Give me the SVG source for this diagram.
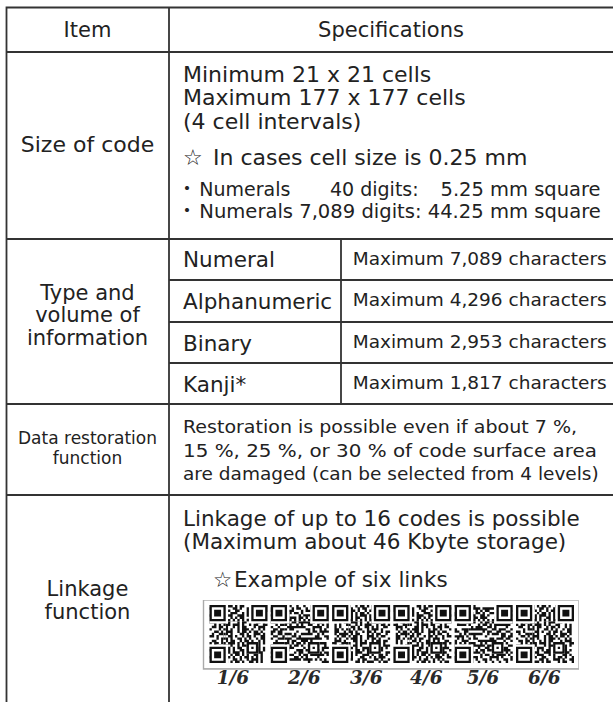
<svg xmlns="http://www.w3.org/2000/svg" width="613" height="702" viewBox="0 0 613 702">
<style>
text{font-family:'DejaVu Sans','Noto Sans CJK JP',sans-serif;fill:#222}
.c{text-anchor:middle}
.f22{font-size:22px}
.f21{font-size:21px}
.f215{font-size:21.5px}
.f19{font-size:19px}
.f185{font-size:18.5px}
.f18{font-size:18px}
.f17{font-size:17px}
.ln{stroke:#333;stroke-width:1.8;fill:none}
.lab{font-family:'DejaVu Serif',serif;font-weight:bold;font-style:italic;font-size:18.5px;fill:#2a2a2a}
.qd{fill:none;stroke:#111;stroke-width:1.05}
</style>
<defs>
<path id="qa" class="qd" d="M1 .5h2m1 0h1m2 0h3m1 0h1m1 0h2m3 0h1m1 0h2m2 0h1M0 1.5h1m2 0h1m1 0h2m3 0h2m1 0h1m2 0h3m1 0h1m2 0h2M2 2.5h3m1 0h1m1 0h1m2 0h2m3 0h1m1 0h2m1 0h1m2 0h1M1 3.5h1m1 0h2m2 0h1m1 0h3m2 0h1m1 0h1m3 0h2m1 0h1M0 4.5h2m2 0h1m1 0h1m1 0h2m2 0h3m1 0h1m2 0h1m1 0h2M3 5.5h1m1 0h2m2 0h1m1 0h1m1 0h2m2 0h1m1 0h3m1 0h1M1 6.5h1m1 0h1m1 0h1m1 0h1m1 0h3m2 0h1m1 0h2m1 0h1m1 0h1M0 7.5h3m2 0h2m1 0h1m3 0h1m1 0h2m1 0h1m2 0h2m1 0h1M2 8.5h1m1 0h1m2 0h2m1 0h3m1 0h1m2 0h1m1 0h2m2 0h2M1 9.5h2m1 0h2m1 0h1m2 0h1m1 0h1m1 0h2m3 0h1m1 0h3M0 10.5h1m3 0h1m1 0h2m1 0h1m2 0h1m1 0h3m1 0h1m2 0h1m1 0h1M2 11.5h2m1 0h1m1 0h3m2 0h1m1 0h2m1 0h1m1 0h2m1 0h1M1 12.5h1m2 0h2m1 0h1m1 0h1m3 0h2m1 0h1m2 0h3m1 0h1M0 13.5h2m1 0h1m2 0h1m1 0h2m1 0h1m2 0h1m1 0h2m1 0h1m2 0h2M3 14.5h1m1 0h3m1 0h1m2 0h2m1 0h1m1 0h1m2 0h1m1 0h2M1 15.5h2m2 0h1m1 0h1m1 0h2m2 0h1m1 0h2m1 0h1m2 0h1m1 0h1M0 16.5h1m1 0h2m1 0h1m2 0h3m1 0h1m1 0h1m2 0h2m2 0h1m1 0h1M2 17.5h1m1 0h1m1 0h2m1 0h1m2 0h1m1 0h3m1 0h2m1 0h1M1 18.5h3m1 0h1m2 0h1m1 0h1m1 0h2m2 0h1m1 0h1m1 0h2m1 0h1M0 19.5h1m2 0h1m1 0h2m1 0h1m1 0h1m2 0h2m1 0h1m2 0h3m1 0h1M2 20.5h2m1 0h1m2 0h1m1 0h3m1 0h1m1 0h1m2 0h1m1 0h2M1 21.5h1m1 0h1m1 0h2m2 0h1m1 0h2m1 0h1m1 0h1m2 0h2m1 0h1M0 22.5h2m2 0h3m1 0h1m1 0h1m2 0h1m1 0h2m1 0h1m1 0h1m1 0h1M3 23.5h1m1 0h1m1 0h1m2 0h2m1 0h1m2 0h1m1 0h3m1 0h1M1 24.5h2m1 0h1m2 0h1m1 0h1m1 0h2m1 0h1m2 0h2m1 0h1m1 0h1"/>
<g id="qo">
<path fill="#fff" d="M0 0h8v8H0zM17 0h8v8h-8zM0 17h8v8H0zM16 16h5v5h-5zM8 6h9v1H8zM6 8h1v9H6z"/>
<path fill="#111" fill-rule="evenodd" d="M0 0h7v7H0zM1 1v5h5V1zM2 2h3v3H2zM18 0h7v7h-7zM19 1v5h5V1zM20 2h3v3h-3zM0 18h7v7H0zM1 19v5h5v-5zM2 20h3v3H2zM16 16h5v5h-5zM17 17v3h3v-3zM18 18h1v1h-1zM8 6h1v1H8zM10 6h1v1h-1zM12 6h1v1h-1zM14 6h1v1h-1zM16 6h1v1h-1zM6 8h1v1H6zM6 10h1v1H6zM6 12h1v1H6zM6 14h1v1H6zM6 16h1v1H6z"/>
</g>
</defs>
<rect width="613" height="702" fill="#fff"/>
<g id="grid" class="ln">
<path d="M5.6 7.5H613M6.5 7V702M169 7V702M6 52H613M6 239H613M6 404H613M6 495H613M169 280H613M169 322H613M169 363H613M341 239V404"/>
</g>
<g id="header">
<text class="f21 c" x="87.5" y="37">Item</text>
<text class="f21 c" x="391" y="37">Specifications</text>
</g>
<g id="row-size">
<text class="f22 c" x="87.5" y="152">Size of code</text>
<text class="f22" x="183" y="81.5">Minimum 21 x 21 cells</text>
<text class="f22" x="183" y="105">Maximum 177 x 177 cells</text>
<text class="f22" x="183" y="128.5">(4 cell intervals)</text>
<text class="f22" y="165"><tspan x="183">☆ </tspan><tspan x="213">In cases cell size is 0.25 mm</tspan></text>
<text class="f19" y="196"><tspan x="177.5">・</tspan><tspan x="199.3">Numerals </tspan><tspan x="330">40 digits: </tspan><tspan x="440.5" textLength="160" lengthAdjust="spacingAndGlyphs">5.25 mm square</tspan></text>
<text class="f19" y="218"><tspan x="177.5">・</tspan><tspan x="199.3" textLength="401.5" lengthAdjust="spacingAndGlyphs">Numerals 7,089 digits: 44.25 mm square</tspan></text>
</g>
<g id="row-type">
<text class="f21 c" x="87.5" y="299.5">Type and</text>
<text class="f21 c" x="87.5" y="322">volume of</text>
<text class="f21 c" x="87.5" y="344.5">information</text>
<text class="f215" x="183" y="267">Numeral</text>
<text class="f215" x="183" y="309">Alphanumeric</text>
<text class="f215" x="183" y="350.5">Binary</text>
<text class="f215" x="183" y="392">Kanji*</text>
<text class="f18" x="352.7" y="264.5" textLength="254" lengthAdjust="spacingAndGlyphs">Maximum 7,089 characters</text>
<text class="f18" x="352.7" y="305.5" textLength="254" lengthAdjust="spacingAndGlyphs">Maximum 4,296 characters</text>
<text class="f18" x="352.7" y="347.5" textLength="254" lengthAdjust="spacingAndGlyphs">Maximum 2,953 characters</text>
<text class="f18" x="352.7" y="388.5" textLength="254" lengthAdjust="spacingAndGlyphs">Maximum 1,817 characters</text>
</g>
<g id="row-restore">
<text class="f17 c" x="87.5" y="444">Data restoration</text>
<text class="f17 c" x="87.5" y="464">function</text>
<text class="f185" x="183" y="433" textLength="394" lengthAdjust="spacingAndGlyphs">Restoration is possible even if about 7 %,</text>
<text class="f185" x="183" y="456.5" textLength="414" lengthAdjust="spacingAndGlyphs">15 %, 25 %, or 30 % of code surface area</text>
<text class="f185" x="183" y="480">are damaged (can be selected from 4 levels)</text>
</g>
<g id="row-link">
<text class="f21 c" x="87.5" y="596">Linkage</text>
<text class="f21 c" x="87.5" y="619">function</text>
<text class="f215" x="183" y="526">Linkage of up to 16 codes is possible</text>
<text class="f215" x="183" y="549">(Maximum about 46 Kbyte storage)</text>
<text class="f215" y="587"><tspan x="213">☆</tspan><tspan x="234">Example of six links</tspan></text>
</g>
<g id="qr-strip">
<rect x="203.5" y="600.5" width="375" height="68" fill="#fff" stroke="#c4c4c4"/>
<path d="M203.5 600v69H579" fill="none" stroke="#aaa" stroke-width="1.4"/>
<g transform="translate(209.5 605) scale(2.32)"><use href="#qa"/><use href="#qo"/></g>
<g transform="translate(270.8 605) scale(2.32)"><use href="#qa" transform="rotate(90 12.5 12.5)"/><use href="#qo"/></g>
<g transform="translate(332.1 605) scale(2.32)"><use href="#qa" transform="rotate(180 12.5 12.5)"/><use href="#qo"/></g>
<g transform="translate(393.4 605) scale(2.32)"><use href="#qa" transform="matrix(-1 0 0 1 25 0)"/><use href="#qo"/></g>
<g transform="translate(454.7 605) scale(2.32)"><use href="#qa" transform="rotate(270 12.5 12.5)"/><use href="#qo"/></g>
<g transform="translate(516 605) scale(2.32)"><use href="#qa" transform="matrix(1 0 0 -1 0 25)"/><use href="#qo"/></g>
<text class="lab" x="216.7" y="684">1/6</text>
<text class="lab" x="288" y="684">2/6</text>
<text class="lab" x="350" y="684">3/6</text>
<text class="lab" x="410" y="684">4/6</text>
<text class="lab" x="466.7" y="684">5/6</text>
<text class="lab" x="528" y="684">6/6</text>
</g>
</svg>
